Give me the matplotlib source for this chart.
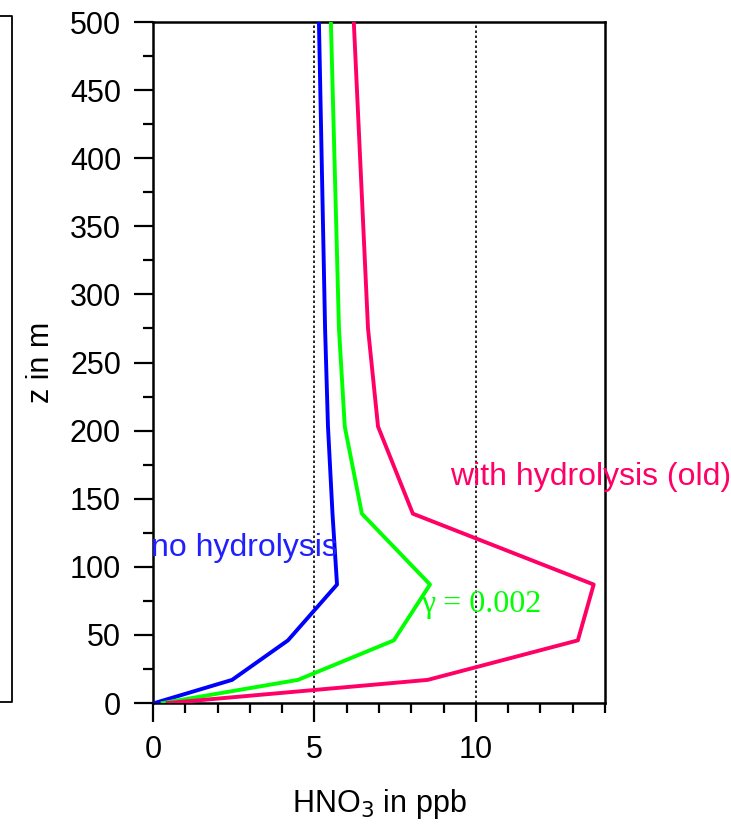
import matplotlib.pyplot as plt
from matplotlib.lines import Line2D

plt.rcParams['font.family'] = ['Liberation Sans', 'DejaVu Sans']

# heights (m) and HNO3 profiles (ppb)
z = [0, 17, 46, 87, 139, 203, 275, 500]
no_hydro = [0.05, 2.45, 4.18, 5.7, 5.56, 5.42, 5.33, 5.14]
gamma = [0.3, 4.49, 7.46, 8.58, 6.47, 5.94, 5.76, 5.51]
old_hydro = [0.46, 8.51, 13.16, 13.65, 8.05, 6.97, 6.66, 6.22]

fig = plt.figure(figsize=(7.31, 8.24), dpi=100)
ax = fig.add_axes([0.2093, 0.1468, 0.6183, 0.8265])

ax.plot(no_hydro, z, color='#0000ff', lw=2.8, zorder=3)
ax.plot(gamma, z, color='#00ff00', lw=2.8, zorder=3)
ax.plot(old_hydro, z, color='#ff0066', lw=2.8, zorder=3)

for gx in [5, 10]:
    ax.axvline(gx, color='black', lw=1.2, ls=(0, (1.5, 1.5)), zorder=1)

ax.set_xlim(0, 14)
ax.set_ylim(0, 500)
ax.set_xticks([0, 5, 10])
ax.set_xticks(range(0, 15), minor=True)
ax.set_yticks(range(0, 501, 50))
ax.set_yticks(range(0, 501, 25), minor=True)
ax.tick_params(which='major', direction='out', length=14, width=1.6, labelsize=22, pad=9)
ax.tick_params(which='minor', direction='out', length=7, width=1.6)
for s in ax.spines.values():
    s.set_linewidth(1.8)

ax.set_xlabel('HNO$_3$ in ppb', fontsize=22, labelpad=16)
ax.set_ylabel('z in m', fontsize=22, labelpad=10)

ax.text(-0.05, 114, 'no hydrolysis', color='#2020ff', fontsize=23, va='center', ha='left', clip_on=False)
ax.text(9.2, 166, 'with hydrolysis (old)', color='#ff0066', fontsize=23, va='center', ha='left', clip_on=False)
ax.text(8.3, 72, 'γ = 0.002', color='#00ff00', fontsize=23, va='center', ha='left',
        family=['Liberation Serif', 'DejaVu Serif'])

# partial frame from a neighbouring panel at the left edge
H = 824.0
W = 731.0
pts_x = [0, 12 / W, 12 / W, 0]
pts_y = [1 - 16 / H, 1 - 16 / H, 1 - 702 / H, 1 - 702 / H]
fig.add_artist(Line2D(pts_x, pts_y, color='black', lw=1.3, transform=fig.transFigure))

fig.savefig('out.png', dpi=100)
